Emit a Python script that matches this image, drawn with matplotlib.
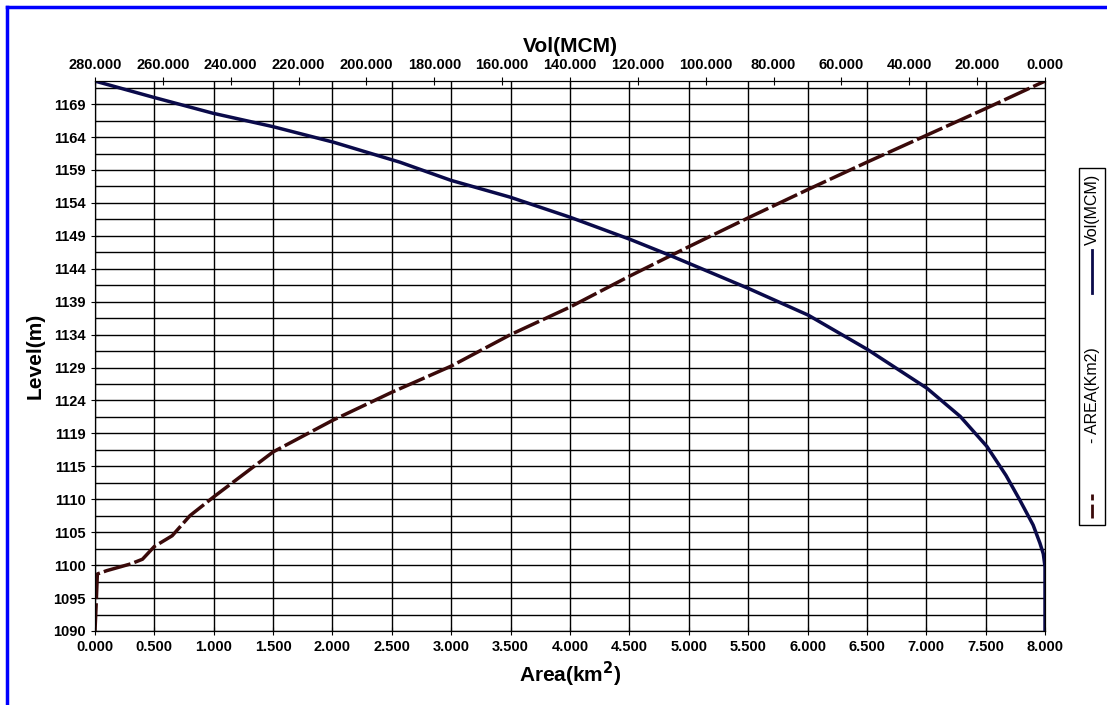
import matplotlib
matplotlib.use("Agg")
import matplotlib.pyplot as plt
from matplotlib.lines import Line2D
from matplotlib.patches import Rectangle
import numpy as np

plt.rcParams['font.family'] = ['Liberation Sans', 'DejaVu Sans']

area_km2 = [0.0, 0.01, 0.02, 0.1, 0.2, 0.3, 0.4, 0.5, 0.65, 0.8, 1.0, 1.5, 2.0, 2.5, 3.0, 3.5,
            4.0, 4.5, 5.0, 5.5, 6.0, 6.5, 7.0, 7.5, 8.0]
area_level = [1090, 1094, 1098.5, 1099, 1099.5, 1100, 1100.7, 1102.6, 1104.2, 1107.2, 1110, 1116.7,
              1121.4, 1125.6, 1129.5, 1134.2, 1138.3, 1142.9, 1147.3, 1151.6, 1155.8, 1159.9,
              1163.9, 1167.9, 1172]
vol_mcm = [0.0, 0.0, 0.5, 1.5, 3.5, 7.4, 11.5, 17.1, 25.0, 34.8, 52.4, 69.8, 87.5, 110.5, 122.3,
           140.0, 157.7, 175.1, 190.1, 209.8, 227.5, 245.2, 262.9, 280]
vol_level = [1090, 1099.6, 1101.5, 1103.1, 1105.8, 1109.5, 1113.2, 1117.5, 1122.0, 1126.2, 1132.0,
             1137.1, 1141.1, 1146.0, 1148.4, 1151.7, 1154.7, 1157.2, 1159.9, 1162.9, 1165.2,
             1167.2, 1169.6, 1172]
y_labels = ['1090', '1095', '1100', '1105', '1110', '1115', '1119', '1124', '1129', '1134',
            '1139', '1144', '1149', '1154', '1159', '1164', '1169']
x_ticks = np.arange(0, 8.01, 0.5)
top_ticks = np.arange(0, 280.1, 20)

fig = plt.figure(figsize=(11.07, 7.05), dpi=100)
ax = fig.add_axes([0.0858, 0.105, 0.8582, 0.78])
step = 4.91
ypos = [1090 + i * step for i in range(len(y_labels))]
ax.set_ylim(1090, 1172)
ax.set_xlim(0, 8)
ax.set_yticks(ypos)
ax.set_yticklabels(y_labels)
ax.set_yticks([p + step / 2 for p in ypos], minor=True)
ax.set_xticks(x_ticks)
ax.set_xticklabels([f"{v:.3f}" for v in x_ticks])
ax.grid(True, which='both', color='black', lw=1)
ax.tick_params(which='minor', length=0)
ax.tick_params(labelsize=10.5, direction='inout', length=6)
for lab in ax.get_xticklabels() + ax.get_yticklabels():
    lab.set_fontweight('bold')
ax.plot(area_km2, area_level, color='#3a0a0a', lw=2.5, ls=(0, (8, 1.2)))
ax.set_xlabel(r'Area(km$^{\mathbf{2}}$)', fontsize=15, fontweight='bold', labelpad=4)
ax.set_ylabel('Level(m)', fontsize=15, fontweight='bold', labelpad=6)

ax2 = ax.twiny()
ax2.set_xlim(280, 0)
ax2.set_xticks(top_ticks)
ax2.set_xticklabels([f"{v:.3f}" for v in top_ticks])
ax2.tick_params(labelsize=10.5, direction='inout', length=6)
for lab in ax2.get_xticklabels():
    lab.set_fontweight('bold')
ax2.plot(vol_mcm, vol_level, color='#0a0a4a', lw=2.5)
ax2.set_xlabel('Vol(MCM)', fontsize=15, fontweight='bold', labelpad=4)

# legend box (vertical)
fig.patches.append(Rectangle((0.9747, 0.255), 0.0235, 0.507, transform=fig.transFigure,
                             fill=False, ec='black', lw=1))
fig.lines.append(Line2D([0.9865, 0.9865], [0.265, 0.30], transform=fig.transFigure,
                        color='#3a0a0a', lw=2, ls=(0, (5, 1.5))))
fig.text(0.9865, 0.44, '- AREA(Km2)', rotation=90, ha='center', va='center', fontsize=11.5)
fig.lines.append(Line2D([0.9865, 0.9865], [0.585, 0.645], transform=fig.transFigure,
                        color='#0a0a4a', lw=2))
fig.text(0.9865, 0.703, 'Vol(MCM)', rotation=90, ha='center', va='center', fontsize=11.5)

# blue frame
fig.lines.append(Line2D([0.0065, 0.0065], [0.0, 0.99], transform=fig.transFigure, color='blue', lw=2.5))
fig.lines.append(Line2D([0.0065, 1.0], [0.99, 0.99], transform=fig.transFigure, color='blue', lw=2.5))

fig.savefig('out.png', dpi=100)
